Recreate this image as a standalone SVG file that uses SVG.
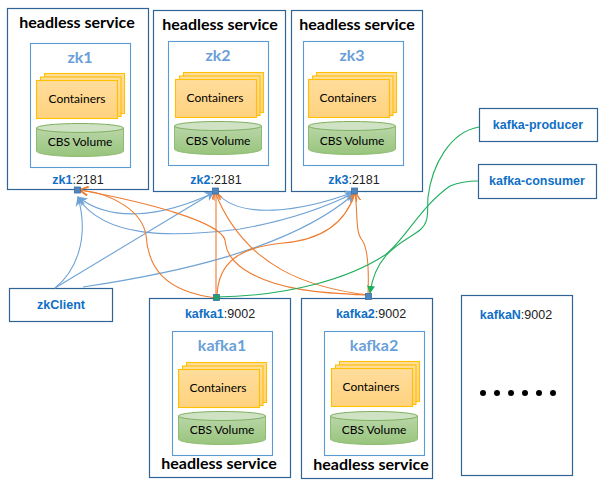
<svg xmlns="http://www.w3.org/2000/svg" xmlns:xlink="http://www.w3.org/1999/xlink" width="602" height="485" viewBox="0 0 602 485">
<style>
text{font-family:Lato,"Liberation Sans",Arial,sans-serif;text-anchor:middle}
.outer{fill:#fff;stroke:#2f6496;stroke-width:1.2}
.inner{fill:#fff;stroke:#5b9bd5;stroke-width:1.1}
.hs{font-size:16px;font-weight:bold;fill:#000}
.name{font-size:16px;font-weight:bold;fill:#6a9fd8}
.lbl{font-size:12px;fill:#000}
.port{font-family:"Liberation Sans",Arial,sans-serif;font-size:12.500px;fill:#222}
.port tspan,.link{fill:#0f6fc6;font-weight:bold}
.link{font-family:"Liberation Sans",Arial,sans-serif;font-size:12.500px}
.c{fill:none;stroke-width:1.1}
.bl{stroke:#6fa3d6}.or{stroke:#ed7d31}.gr{stroke:#1fae5c}
.pb{fill:#4f86c0;stroke:#3b6fa5;stroke-width:.8}
</style>
<defs>
<linearGradient id="y" x1="0" y1="0" x2="0" y2="1"><stop offset="0" stop-color="#ffdd9c"/><stop offset="1" stop-color="#ffd27f"/></linearGradient>
<linearGradient id="g" x1="0" y1="0" x2="0" y2="1"><stop offset="0" stop-color="#b9d6a8"/><stop offset="1" stop-color="#98c47c"/></linearGradient>
<g id="stack">
<rect x="8" y="0" width="80" height="40" fill="url(#y)" stroke="#ffc000" stroke-width="1.100"/>
<rect x="4" y="3.500" width="80.500" height="39.500" fill="url(#y)" stroke="#ffc000" stroke-width="1.100"/>
<rect x="0" y="7" width="81" height="38" fill="url(#y)" stroke="#ffc000" stroke-width="1.100"/>
</g>
<g id="cyl">
<path d="M0 5V28C0 31 19 33.500 43.500 33.500S87 31 87 28V5Z" fill="url(#g)" stroke="#8dbb70" stroke-width="1"/>
<ellipse cx="43.500" cy="5" rx="43.500" ry="4.500" fill="#cfe2c3" stroke="#7fb05f" stroke-width="1"/>
</g>
<marker id="ab" viewBox="0 0 10 10" refX="9" refY="5" markerWidth="10" markerHeight="10" orient="auto" markerUnits="userSpaceOnUse"><path d="M0 0L10 5L0 10L3 5Z" fill="#6fa3d6"/></marker>
<marker id="ao" viewBox="0 0 10 10" refX="9" refY="5" markerWidth="9" markerHeight="9" orient="auto" markerUnits="userSpaceOnUse"><path d="M0 0L10 5L0 10" fill="none" stroke="#ed7d31" stroke-width="1.500"/></marker>
<marker id="ag" viewBox="0 0 10 10" refX="9" refY="5" markerWidth="8" markerHeight="8" orient="auto" markerUnits="userSpaceOnUse"><path d="M0 0L10 5L0 10Z" fill="#1fae5c"/></marker>
</defs>
<rect width="602" height="485" fill="#fff"/>

<g id="zk1">
<rect class="outer" x="7.500" y="8.500" width="141" height="181"/>
<text class="hs" x="77" y="28">headless service</text>
<rect class="inner" x="30.500" y="43.500" width="100" height="124"/>
<text class="name" x="80" y="63">zk1</text>
<use xlink:href="#stack" x="36.500" y="73.500"/>
<text class="lbl" x="77" y="103">Containers</text>
<use xlink:href="#cyl" x="36.500" y="123"/>
<text class="lbl" x="80" y="146">CBS Volume</text>
<text class="port" x="78" y="184"><tspan>zk1</tspan>:2181</text>
</g>
<g id="zk2">
<rect class="outer" x="153.500" y="10.500" width="132" height="181"/>
<text class="hs" x="220" y="30">headless service</text>
<rect class="inner" x="168.500" y="41.500" width="100" height="124"/>
<text class="name" x="218" y="61">zk2</text>
<use xlink:href="#stack" x="175.500" y="72.500"/>
<text class="lbl" x="215" y="102">Containers</text>
<use xlink:href="#cyl" x="174.500" y="121"/>
<text class="lbl" x="218" y="145">CBS Volume</text>
<text class="port" x="216" y="184"><tspan>zk2</tspan>:2181</text>
</g>
<g id="zk3">
<rect class="outer" x="291.500" y="10.500" width="131" height="181"/>
<text class="hs" x="357" y="30">headless service</text>
<rect class="inner" x="303.500" y="41.500" width="100" height="124"/>
<text class="name" x="352" y="61">zk3</text>
<use xlink:href="#stack" x="308.500" y="72.500"/>
<text class="lbl" x="348" y="102">Containers</text>
<use xlink:href="#cyl" x="308.500" y="121"/>
<text class="lbl" x="352" y="145">CBS Volume</text>
<text class="port" x="354" y="184"><tspan>zk3</tspan>:2181</text>
</g>
<g id="kafka1">
<rect class="outer" x="149.500" y="298.500" width="141" height="179"/>
<text class="port" x="220" y="318"><tspan>kafka1</tspan>:9002</text>
<rect class="inner" x="172.500" y="331.500" width="100" height="124"/>
<text class="name" x="222" y="351">kafka1</text>
<use xlink:href="#stack" x="178.500" y="362.500"/>
<text class="lbl" x="218" y="392">Containers</text>
<use xlink:href="#cyl" x="178.500" y="411"/>
<text class="lbl" x="222" y="434">CBS Volume</text>
<text class="hs" x="219" y="469">headless service</text>
</g>
<g id="kafka2">
<rect class="outer" x="301.500" y="298.500" width="131" height="180"/>
<text class="port" x="371" y="318"><tspan>kafka2</tspan>:9002</text>
<rect class="inner" x="324.500" y="331.500" width="100" height="124"/>
<text class="name" x="374" y="351">kafka2</text>
<use xlink:href="#stack" x="331.500" y="361.500"/>
<text class="lbl" x="371" y="391">Containers</text>
<use xlink:href="#cyl" x="330.500" y="411"/>
<text class="lbl" x="374" y="434">CBS Volume</text>
<text class="hs" x="371" y="470">headless service</text>
</g>
<g id="kafkaN">
<rect class="outer" x="461.500" y="295.500" width="111" height="180"/>
<text class="port" x="516" y="319"><tspan>kafkaN</tspan>:9002</text>
<g fill="#000"><circle cx="483" cy="393" r="3"/><circle cx="497" cy="393" r="3"/><circle cx="511" cy="393" r="3"/><circle cx="525" cy="393" r="3"/><circle cx="539" cy="393" r="3"/><circle cx="553" cy="393" r="3"/></g>
</g>
<g id="zkClient">
<rect class="outer" x="9.500" y="288.500" width="103" height="33"/>
<text class="link" x="61" y="309">zkClient</text>
</g>
<g id="kafka-producer">
<rect class="outer" x="479.500" y="108.500" width="118" height="33"/>
<text class="link" x="538" y="129">kafka-producer</text>
</g>
<g id="kafka-consumer">
<rect class="outer" x="478.500" y="164.500" width="118" height="34"/>
<text class="link" x="537" y="185">kafka-consumer</text>
</g>

<g id="connectors">
<path class="c bl" d="M55 288C75 272 90 240 78 197" marker-end="url(#ab)"/>
<path class="c bl" d="M55 288L214 192" marker-end="url(#ab)"/>
<path class="c bl" d="M83 287C170 274 290 250 354 194" marker-end="url(#ab)"/>
<path class="c bl" d="M213 193C160 218 110 222 78 197" marker-end="url(#ab)"/>
<path class="c bl" d="M78 198C105 238 170 238 240 229C280 222 320 210 354 193" marker-end="url(#ab)"/>
<path class="c bl" d="M217 193C240 220 300 212 354 192" marker-end="url(#ab)"/>

<path class="c or" d="M217 298C165 292 148 268 146 235C142 212 115 194 80 190" marker-end="url(#ao)"/>
<path class="c or" d="M216 297V192" marker-end="url(#ao)"/>
<path class="c or" d="M217 296C218 262 240 247 283 243C320 240 345 225 355 193" marker-end="url(#ao)"/>
<path class="c or" d="M366 295C320 293 280 290 250 273C230 262 226 250 225 240C220 222 150 203 80 190" marker-end="url(#ao)"/>
<path class="c or" d="M368 295C310 288 245 268 215 192" marker-end="url(#ao)"/>
<path class="c or" d="M368 295C369 270 368 248 362 240C355 232 358 212 355 193" marker-end="url(#ao)"/>

<path class="c gr" d="M216 297C290 296 350 278 385 255C405 240 420 207 450 186C460 182 470 181 478 181"/>
<path class="c gr" d="M479 127C450 132 432 165 428 197C427 210 430 222 420 230C405 242 376 250 370 293" marker-end="url(#ag)"/>

<rect class="pb" x="74.500" y="187" width="6" height="6"/>
<rect class="pb" x="212.500" y="188" width="6" height="6"/>
<rect class="pb" x="351.500" y="188" width="6" height="6"/>
<rect x="213.500" y="294.500" width="6" height="6" fill="#1fa463" stroke="#3b6fa5" stroke-width=".8"/>
<rect class="pb" x="365.500" y="293.500" width="6" height="6"/>
</g>
</svg>
